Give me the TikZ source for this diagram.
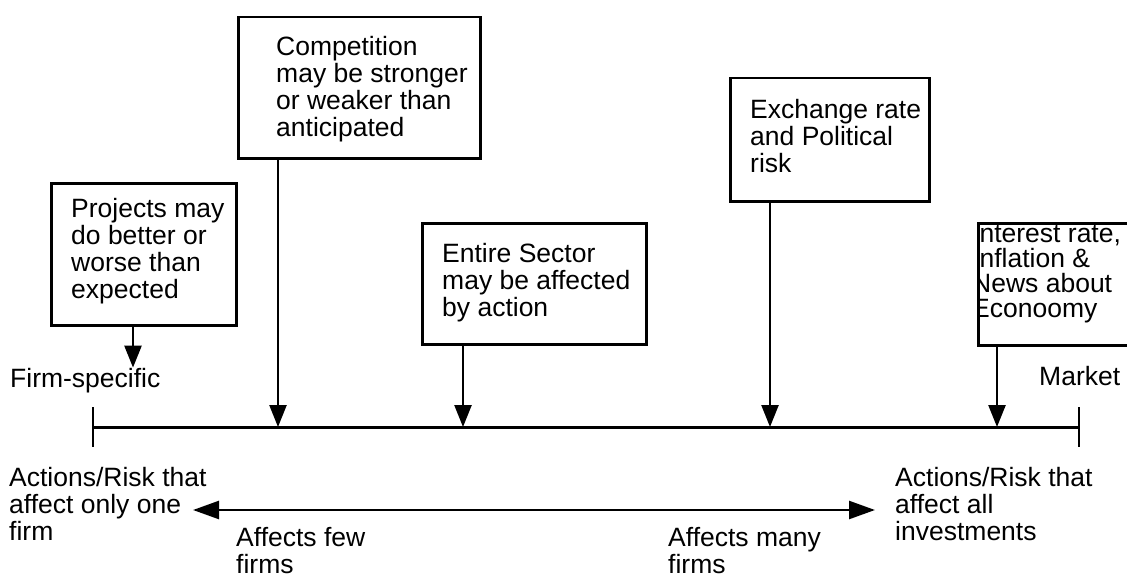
\documentclass[tikz,border=0pt]{standalone}
\usepackage{fontspec}
\setmainfont{Liberation Sans}
\usepackage{tikz}
\usetikzlibrary{arrows.meta}
\tikzset{
  riskbox/.style={
    rectangle, draw=black, line width=2.5pt,
    inner sep=0pt, anchor=north west
  },
  % anchored at the baseline of the last line
  risktext/.style={
    font=\fontsize{26.5}{26.7}\selectfont, align=left,
    inner sep=0pt, anchor=base west
  },
  riskarrow/.style={
    -{Triangle[length=22pt, width=17pt]}, line width=2.5pt
  },
  spanarrow/.style={
    {Triangle[length=26pt, width=18pt]}-{Triangle[length=26pt, width=18pt]},
    line width=2.5pt
  },
}

\begin{document}
\begin{tikzpicture}[x=1pt, y=-1pt]
  \useasboundingbox (0,0) rectangle (1127,578);

  % Risk boxes
  \node[riskbox, minimum width=185pt, minimum height=142pt] (proj) at (50,182) {};
  \node[riskbox, minimum width=242pt, minimum height=141pt] (comp) at (237,16) {};
  \node[riskbox, minimum width=224pt, minimum height=121pt] (sector) at (421,222) {};
  \node[riskbox, minimum width=199pt, minimum height=123pt] (exch) at (729,77) {};
  \node[riskbox, minimum width=170pt, minimum height=122pt] (intr) at (977,222) {};

  \node[risktext] (projtxt) at (71,298) {Projects may\\do better or\\worse than\\expected};
  \node[risktext] (comptxt) at (276,136) {Competition\\may be stronger\\or weaker than\\anticipated};
  \node[risktext] (sectortxt) at (442,316) {Entire Sector\\may be affected\\by action};
  \node[risktext] (exchtxt) at (750,172) {Exchange rate\\and Political\\risk};
  \begin{scope}
    \clip (intr.north west) rectangle (intr.south east);
    \node[risktext, font=\fontsize{26.5}{24.7}\selectfont] (intrtxt) at (972,317)
      {Interest rate,\\Inflation \&\\News about\\Econoomy};
  \end{scope}

  % Scale from firm to market
  \node[risktext] (firm) at (10,387) {Firm-specific};
  \node[risktext] (market) at (1039,385) {Market};
  \coordinate (axl) at (93,427);
  \coordinate (axr) at (1079,427);
  \draw[line width=3pt] (axl) -- (axr);
  \draw[line width=2.5pt] ([yshift=20pt]axl) -- ([yshift=-20pt]axl);
  \draw[line width=2.5pt] ([yshift=20pt]axr) -- ([yshift=-20pt]axr);

  % Arrows down to the scale
  \draw[riskarrow] ([xshift=83pt]proj.south west) -- ([xshift=83pt]proj.south west |- firm.north);
  \draw[riskarrow] ([xshift=41pt]comp.south west) -- ([xshift=41pt]comp.south west |- axl);
  \draw[riskarrow] ([xshift=42pt]sector.south west) -- ([xshift=42pt]sector.south west |- axl);
  \draw[riskarrow] ([xshift=41pt]exch.south west) -- ([xshift=41pt]exch.south west |- axl);
  \draw[riskarrow] ([xshift=20pt]intr.south west) -- ([xshift=20pt]intr.south west |- axl);

  % Range below
  \node[risktext] (onefirm) at (9,540) {Actions/Risk that\\affect only one\\firm};
  \node[risktext] (allinv) at (895,540) {Actions/Risk that\\affect all\\investments};
  \coordinate (spanl) at (193,510);
  \coordinate (spanr) at (875,510);
  \draw[spanarrow] (spanl) -- (spanr);
  \node[risktext] (few) at (236,573) {Affects few\\firms};
  \node[risktext] (many) at (668,573) {Affects many\\firms};
\end{tikzpicture}
\end{document}
